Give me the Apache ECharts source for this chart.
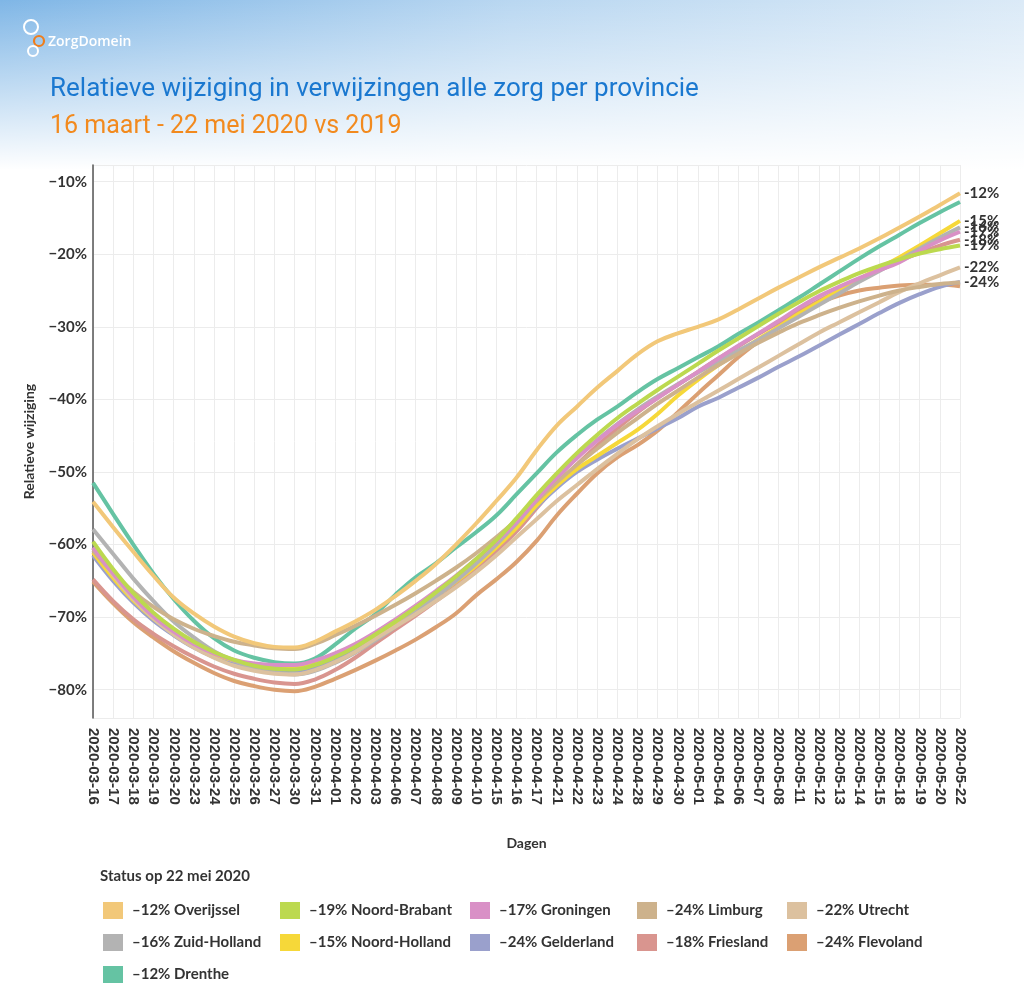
<!DOCTYPE html>
<html>
<head>
<meta charset="utf-8">
<script src="https://cdn.jsdelivr.net/npm/echarts@6/dist/echarts.min.js"></script>
<style>
html,body{margin:0;padding:0;}
#wrap{width:1024px;height:1003px;position:relative;
background:linear-gradient(180deg, rgba(255,255,255,0) 0px, #ffffff 170px), linear-gradient(90deg, #7fb6e6 0%, #b9d7f1 50%, #dbeaf7 100%);}
#chart{width:1024px;height:1003px;}
</style>
</head>
<body>
<div id="wrap"><div id="chart"></div></div>
<script>
const dates = ['2020-03-16','2020-03-17','2020-03-18','2020-03-19','2020-03-20','2020-03-23','2020-03-24','2020-03-25','2020-03-26','2020-03-27','2020-03-30','2020-03-31',
'2020-04-01','2020-04-02','2020-04-03','2020-04-06','2020-04-07','2020-04-08','2020-04-09','2020-04-10','2020-04-15','2020-04-16','2020-04-17','2020-04-21','2020-04-22','2020-04-23','2020-04-24','2020-04-28','2020-04-29','2020-04-30',
'2020-05-01','2020-05-04','2020-05-06','2020-05-07','2020-05-08','2020-05-11','2020-05-12','2020-05-13','2020-05-14','2020-05-15','2020-05-18','2020-05-19','2020-05-20','2020-05-22'];

const overijssel = [-54.1,-57.6,-61.0,-64.3,-67.3,-69.5,-71.3,-72.7,-73.6,-74.1,-74.2,-73.4,-72.0,-70.6,-69.0,-67.1,-65.0,-62.7,-60.0,-57.1,-54.0,-50.8,-47.0,-43.6,-41.0,-38.4,-36.1,-33.8,-32.0,-30.9,-30.0,-29.0,-27.6,-26.1,-24.6,-23.2,-21.8,-20.5,-19.2,-17.8,-16.3,-14.8,-13.2,-11.6];
const noordBrabant = [-59.6,-63.4,-66.7,-69.4,-71.6,-73.4,-74.8,-75.9,-76.7,-77.1,-77.2,-76.6,-75.5,-74.1,-72.4,-70.6,-68.7,-66.6,-64.4,-62.0,-59.4,-56.4,-53.2,-50.2,-47.4,-44.9,-42.6,-40.6,-38.7,-36.9,-35.1,-33.3,-31.6,-29.9,-28.2,-26.6,-25.1,-23.8,-22.6,-21.6,-20.7,-19.9,-19.3,-18.8];
const groningen = [-60.4,-64.0,-67.2,-69.9,-72.0,-73.7,-75.0,-75.9,-76.4,-76.6,-76.6,-76.0,-75.0,-73.7,-72.1,-70.3,-68.4,-66.4,-64.3,-62.0,-59.6,-56.9,-53.8,-50.8,-48.1,-45.7,-43.5,-41.6,-39.8,-38.0,-36.2,-34.4,-32.6,-30.9,-29.2,-27.4,-25.8,-24.5,-23.3,-22.2,-21.1,-19.5,-18.1,-16.9];
const limburg = [-60.8,-63.9,-66.5,-68.6,-70.3,-71.6,-72.6,-73.4,-73.9,-74.3,-74.4,-73.7,-72.5,-71.2,-69.8,-68.3,-66.7,-65.0,-63.2,-61.2,-59.0,-56.6,-54.0,-51.4,-49.0,-46.8,-44.6,-42.6,-40.6,-38.8,-37.0,-35.3,-33.7,-32.2,-30.8,-29.5,-28.4,-27.4,-26.5,-25.7,-25.0,-24.5,-24.1,-23.9];
const utrecht = [-60.5,-64.2,-67.5,-70.2,-72.4,-74.2,-75.6,-76.7,-77.4,-77.8,-77.9,-77.3,-76.2,-74.8,-73.0,-71.3,-69.6,-67.8,-65.9,-63.8,-61.5,-59.0,-56.5,-54.0,-51.8,-49.6,-47.5,-45.5,-43.7,-42.0,-40.4,-38.8,-37.2,-35.6,-34.0,-32.4,-30.8,-29.4,-28.0,-26.6,-25.2,-24.0,-22.9,-21.8];
const zuidHolland = [-57.9,-61.3,-64.7,-67.8,-70.6,-72.8,-74.7,-76.0,-77.0,-77.6,-77.9,-77.4,-76.3,-74.9,-73.2,-71.3,-69.3,-67.2,-65.0,-62.6,-60.0,-57.1,-53.9,-50.8,-48.0,-45.6,-43.4,-41.4,-39.6,-37.9,-36.3,-34.8,-33.3,-31.8,-30.2,-28.6,-27.0,-25.4,-23.8,-22.3,-20.8,-19.2,-17.7,-16.3];
const noordHolland = [-61.1,-64.6,-67.7,-70.2,-72.2,-73.9,-75.1,-76.0,-76.5,-76.8,-76.8,-76.2,-75.2,-74.0,-72.5,-70.8,-69.0,-67.1,-65.1,-62.9,-60.4,-57.7,-54.6,-51.9,-49.6,-47.8,-46.0,-44.2,-42.0,-39.5,-37.3,-35.3,-33.5,-31.7,-30.0,-28.2,-26.6,-25.0,-23.4,-21.9,-20.4,-18.8,-17.1,-15.4];
const gelderland = [-61.5,-65.0,-68.0,-70.5,-72.5,-74.2,-75.5,-76.5,-77.1,-77.4,-77.4,-76.9,-75.8,-74.4,-72.6,-70.7,-68.8,-66.8,-64.8,-62.6,-60.3,-57.6,-54.8,-52.2,-50.0,-48.3,-46.8,-45.4,-44.0,-42.6,-41.0,-39.8,-38.4,-37.0,-35.5,-34.1,-32.6,-31.1,-29.6,-28.1,-26.7,-25.5,-24.5,-23.8];
const friesland = [-64.8,-67.8,-70.3,-72.3,-74.0,-75.5,-76.8,-77.8,-78.5,-79.0,-79.2,-78.6,-77.3,-75.6,-73.6,-71.7,-69.8,-67.8,-65.7,-63.3,-60.9,-58.2,-55.0,-51.8,-49.0,-46.4,-44.0,-41.8,-39.8,-38.0,-36.2,-34.4,-32.7,-31.0,-29.4,-27.9,-26.4,-25.0,-23.6,-22.2,-20.9,-19.8,-18.8,-18.0];
const flevoland = [-65.1,-68.1,-70.7,-72.8,-74.7,-76.3,-77.7,-78.8,-79.5,-80.0,-80.2,-79.6,-78.5,-77.3,-76.0,-74.6,-73.1,-71.4,-69.5,-67.0,-64.8,-62.4,-59.5,-56.0,-53.0,-50.2,-48.0,-46.3,-44.3,-41.8,-39.2,-36.7,-34.2,-32.0,-30.0,-28.1,-26.7,-25.7,-25.0,-24.6,-24.3,-24.2,-24.2,-24.4];
const drenthe = [-51.5,-55.8,-60.0,-64.0,-67.5,-70.5,-72.9,-74.6,-75.6,-76.2,-76.4,-75.7,-73.8,-71.6,-69.6,-66.9,-64.5,-62.6,-60.4,-58.3,-56.0,-53.1,-50.2,-47.3,-44.9,-42.8,-41.0,-39.0,-37.2,-35.7,-34.2,-32.7,-31.0,-29.4,-27.7,-26.0,-24.2,-22.4,-20.6,-18.9,-17.3,-15.7,-14.2,-12.8];

const provinces = ['Overijssel','Noord-Brabant','Groningen','Limburg','Utrecht','Zuid-Holland','Noord-Holland','Gelderland','Friesland','Flevoland','Drenthe'];
const legendPct = ['\u201312%','\u201319%','\u201317%','\u201324%','\u201322%','\u201316%','\u201315%','\u201324%','\u201318%','\u201324%','\u201312%'];
const endLabels = ['-12%','-19%','-17%','-24%','-22%','-16%','-15%','',  '-18%','',  ''];
const seriesValues = [overijssel,noordBrabant,groningen,limburg,utrecht,zuidHolland,noordHolland,gelderland,friesland,flevoland,drenthe];
const colors = ['#f2c879','#bcd94f','#d990c6','#cdb28c','#dcc19f','#b3b3b3','#f6d839','#9aa0cc','#d9958f','#dba073','#65c3a3'];
const yTicks = [-80,-70,-60,-50,-40,-30,-20,-10];

const chart = echarts.init(document.getElementById('chart'), null, {renderer:'canvas'});
const txt = '#333333';
const series = provinces.map((p,i)=>({
  name:p, type:'line', data:seriesValues[i], smooth:0.4, showSymbol:false, symbol:'none',
  lineStyle:{width:4,color:colors[i]}, itemStyle:{color:colors[i]},
  z: 2 + (provinces.length - i),
  endLabel:{show:endLabels[i]!=='', formatter:()=>endLabels[i], color:txt, fontFamily:'Lato', fontWeight:'bold', fontSize:15, distance:4},
  emphasis:{disabled:true}
}));

const cols = [[0,5,10],[1,6],[2,7],[3,8],[4,9]];
const colLeft = [98,275,465,632,782];
const legends = cols.map((c,k)=>({
  orient:'vertical', left:colLeft[k], top:897, itemWidth:20, itemHeight:17, itemGap:15,
  icon:'rect', selectedMode:false,
  data:c.map(i=>provinces[i]),
  formatter:(n)=>legendPct[provinces.indexOf(n)]+' '+n,
  textStyle:{color:txt, fontFamily:'Lato', fontWeight:'bold', fontSize:15, padding:[0,0,0,4]}
}));

chart.setOption({
  animation:false,
  backgroundColor:'transparent',
  color:colors,
  grid:{left:93, right:64, top:165, bottom:285, containLabel:false},
  legend:legends,
  graphic:[
    {type:'circle', shape:{cx:31,cy:27,r:7}, style:{fill:'none',stroke:'#ffffff',lineWidth:2}},
    {type:'circle', shape:{cx:39,cy:41,r:5}, style:{fill:'none',stroke:'#f07d1a',lineWidth:2.2}},
    {type:'circle', shape:{cx:33,cy:51,r:5}, style:{fill:'none',stroke:'#ffffff',lineWidth:2}},
    {type:'text', left:48, top:35, style:{text:'ZorgDomein', fill:'#ffffff', font:'600 14px "Open Sans"'}},
    {type:'text', left:50, top:76, style:{text:'Relatieve wijziging in verwijzingen alle zorg per provincie', fill:'#1a78d0', font:'26px Roboto'}},
    {type:'text', left:50, top:114, style:{text:'16 maart - 22 mei 2020 vs 2019', fill:'#f28a1e', font:'25px Roboto'}},
    {type:'text', left:100, top:869, style:{text:'Status op 22 mei 2020', fill:txt, font:'bold 15px Lato'}}
  ],
  xAxis:{
    type:'category', data:dates, boundaryGap:false,
    name:'Dagen', nameLocation:'middle', nameGap:118,
    nameTextStyle:{color:txt, fontFamily:'Lato', fontWeight:'bold', fontSize:14},
    axisLine:{show:false}, axisTick:{show:false},
    axisLabel:{interval:0, rotate:-90, color:txt, fontFamily:'Liberation Sans', fontWeight:'bold', fontSize:15, margin:10},
    splitLine:{show:true, lineStyle:{color:'#ececec', width:1}}
  },
  yAxis:{
    type:'value', min:-83.9, max:-7.7, splitNumber:8,
    name:'Relatieve wijziging', nameLocation:'middle', nameGap:57, nameRotate:90,
    nameTextStyle:{color:txt, fontFamily:'Lato', fontWeight:'bold', fontSize:14},
    axisLine:{show:true, lineStyle:{color:'#555555', width:1.5}}, axisTick:{show:false},
    axisLabel:{color:txt, fontFamily:'Lato', fontWeight:'bold', fontSize:15, margin:6,
      formatter:(v)=> yTicks.indexOf(Math.round(v*10)/10)>=0 ? '\u2212'+Math.abs(v)+'%' : ''},
    splitLine:{show:true, lineStyle:{color:'#ececec', width:1}}
  },
  series:series
});
</script>
</body>
</html>
